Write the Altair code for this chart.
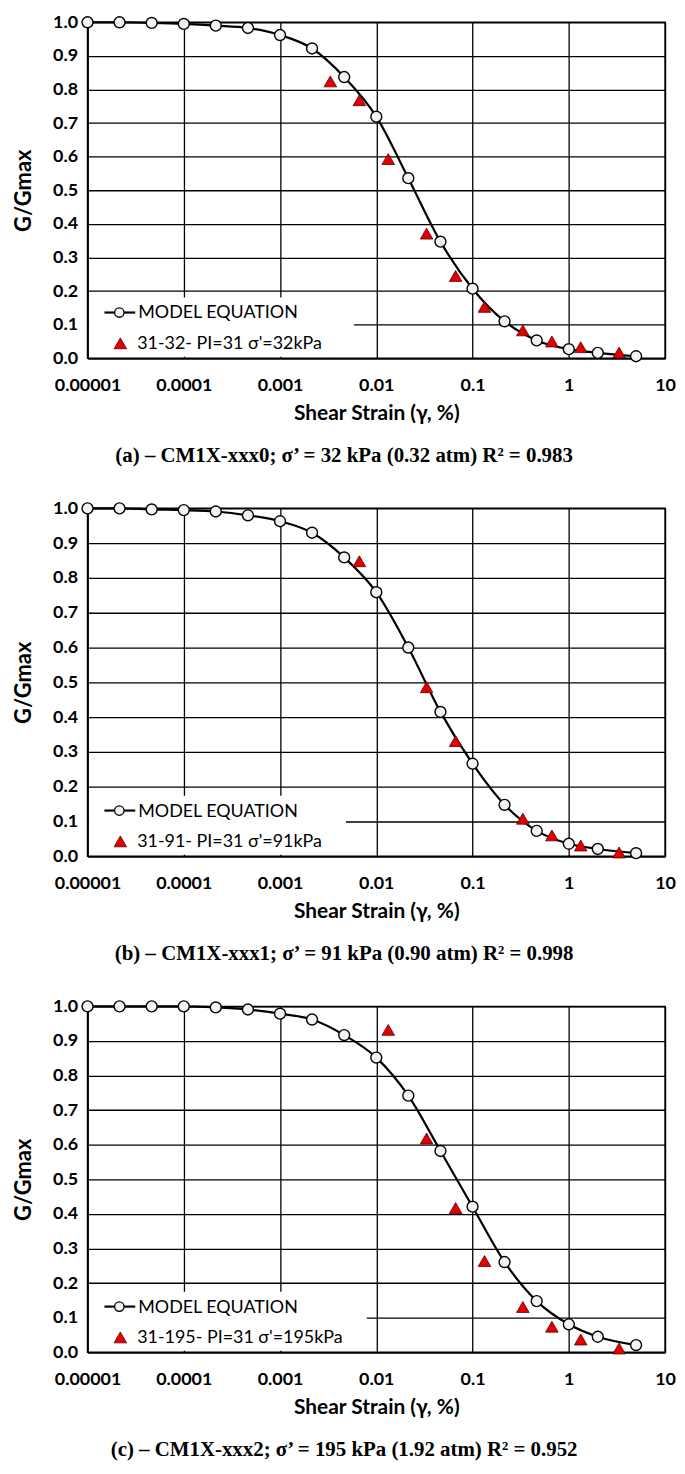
import altair as alt
import pandas as pd

# ---------------- data ----------------
strain_model = [1e-5, 2.15e-5, 4.64e-5, 1e-4, 2.15e-4, 4.64e-4, 1e-3, 2.15e-3, 4.64e-3,
                0.01, 0.0215, 0.0464, 0.1, 0.215, 0.464, 1, 2, 5]
model_a = [1.0, 1.0, 0.998, 0.995, 0.99, 0.983, 0.962, 0.922, 0.837, 0.719, 0.536, 0.347,
           0.207, 0.11, 0.053, 0.027, 0.016, 0.006]
model_b = [1.0, 1.0, 0.997, 0.995, 0.991, 0.98, 0.963, 0.93, 0.859, 0.759, 0.6, 0.415,
           0.266, 0.148, 0.073, 0.036, 0.021, 0.009]
model_c = [1.0, 1.0, 1.0, 1.0, 0.997, 0.991, 0.979, 0.962, 0.917, 0.852, 0.742, 0.582,
           0.421, 0.261, 0.148, 0.081, 0.045, 0.021]

test_strain_a = [0.00333, 0.00667, 0.0133, 0.0333, 0.0667, 0.133, 0.333, 0.667, 1.33, 3.33]
test_a = [0.824, 0.768, 0.593, 0.371, 0.245, 0.153, 0.083, 0.05, 0.033, 0.017]
test_strain_b = [0.00667, 0.0333, 0.0667, 0.333, 0.667, 1.33, 3.33]
test_b = [0.848, 0.486, 0.331, 0.108, 0.06, 0.031, 0.011]
test_strain_c = [0.0133, 0.0333, 0.0667, 0.133, 0.333, 0.667, 1.33, 3.33]
test_c = [0.932, 0.618, 0.417, 0.264, 0.131, 0.074, 0.037, 0.011]

model_label = "MODEL EQUATION"
test_labels = ["31-32- PI=31  σ'=32kPa", "31-91- PI=31  σ'=91kPa", "31-195- PI=31  σ'=195kPa"]
captions = [
    "(a) – CM1X-xxx0; σ’ = 32 kPa (0.32 atm) R² = 0.983",
    "(b) – CM1X-xxx1; σ’ = 91 kPa (0.90 atm) R² = 0.998",
    "(c) – CM1X-xxx2; σ’ = 195 kPa (1.92 atm) R² = 0.952",
]
x_ticks = [0.00001, 0.0001, 0.001, 0.01, 0.1, 1, 10]
y_ticks = [0, 0.1, 0.2, 0.3, 0.4, 0.5, 0.6, 0.7, 0.8, 0.9, 1]
x_title = "Shear Strain (γ, %)"
y_title = "G/Gmax"

# ---------------- layout constants ----------------
W = 581
FONT = "Lato"
one = pd.DataFrame({"k": [0]})

xenc = alt.X("strain:Q",
             scale=alt.Scale(type="log", domain=[1e-5, 10], nice=False),
             axis=alt.Axis(values=x_ticks, tickCount=20, format=".5~f", title=x_title,
                           labelFlush=False, labelOverlap=False,
                           labelPadding=18, titlePadding=9, titleFontSize=21))
yenc = alt.Y("g:Q",
             scale=alt.Scale(domain=[0, 1], nice=False),
             axis=alt.Axis(values=y_ticks, tickCount=20, format=".1f", title=y_title,
                           labelFlush=False, labelOverlap=False,
                           labelPadding=10, titlePadding=17, titleFontSize=22))


def panel(model, ts, tv, label, caption, legend_w, H):
    mdf = pd.DataFrame({"strain": strain_model, "g": model})
    tdf = pd.DataFrame({"strain": ts, "g": tv})

    line = alt.Chart(mdf).mark_line(color="black", strokeWidth=2.2,
                                    interpolate="monotone").encode(x=xenc, y=yenc)
    pts = alt.Chart(mdf).mark_point(shape="circle", filled=True, fill="#f2f2f2",
                                    stroke="black", strokeWidth=1.4, size=121,
                                    opacity=1).encode(x=xenc, y=yenc)
    tri = alt.Chart(tdf).mark_point(shape="triangle-up", filled=True, fill="#e30000",
                                    stroke="#5a0000", strokeWidth=0.8, size=160,
                                    opacity=1).encode(x=xenc, y=yenc)

    # legend box (white, covers grid)
    box = alt.Chart(one).mark_rect(fill="white", opacity=1).encode(
        x=alt.value(1.5), x2=alt.value(legend_w),
        y=alt.value(H - 61), y2=alt.value(H - 1.5))
    r1 = H - 46
    r2 = H - 15
    lg_line = alt.Chart(one).mark_rule(color="black", strokeWidth=2.2).encode(
        x=alt.value(17), x2=alt.value(48), y=alt.value(r1))
    lg_pt = alt.Chart(one).mark_point(shape="circle", filled=True, fill="#f2f2f2",
                                      stroke="black", strokeWidth=1.3, size=90,
                                      opacity=1).encode(x=alt.value(32), y=alt.value(r1))
    lg_t1 = alt.Chart(one).mark_text(align="left", baseline="middle", font=FONT,
                                     fontSize=18, color="black").encode(
        x=alt.value(51), y=alt.value(r1 + 1), text=alt.value(model_label))
    lg_tri = alt.Chart(one).mark_point(shape="triangle-up", filled=True, fill="#e30000",
                                       stroke="#5a0000", strokeWidth=0.8, size=160,
                                       opacity=1).encode(x=alt.value(33), y=alt.value(r2))
    lg_t2 = alt.Chart(one).mark_text(align="left", baseline="middle", font=FONT,
                                     fontSize=18, color="black").encode(
        x=alt.value(50), y=alt.value(r2 + 1), text=alt.value(label))

    return alt.layer(line, pts, tri, box, lg_line, lg_pt, lg_t1, lg_tri, lg_t2).properties(
        width=W, height=H,
        title=alt.TitleParams(text=caption, orient="bottom", anchor="middle", frame="bounds",
                              font="Liberation Serif", fontSize=21, fontWeight="bold",
                              color="black", offset=21))


pa = panel(model_a, test_strain_a, test_a, test_labels[0], captions[0], 268, 338)
pb = panel(model_b, test_strain_b, test_b, test_labels[1], captions[1], 260, 350)
pc = panel(model_c, test_strain_c, test_c, test_labels[2], captions[2], 281, 348)

chart = alt.vconcat(pa, pb, pc, spacing=32).properties(
    padding={"left": 4, "top": 0, "right": 0, "bottom": 0}
).configure_view(stroke="black", strokeWidth=1.5).configure_axis(
    gridColor="black", gridOpacity=1, gridWidth=1.3,
    domainColor="black", domainWidth=1.5, ticks=False,
    labelFont=FONT, labelFontWeight="bold", labelFontSize=18, labelColor="black",
    titleFont=FONT, titleFontWeight="bold", titleColor="black")

chart.save("out.html", embed_options={"renderer": "svg", "actions": False})
